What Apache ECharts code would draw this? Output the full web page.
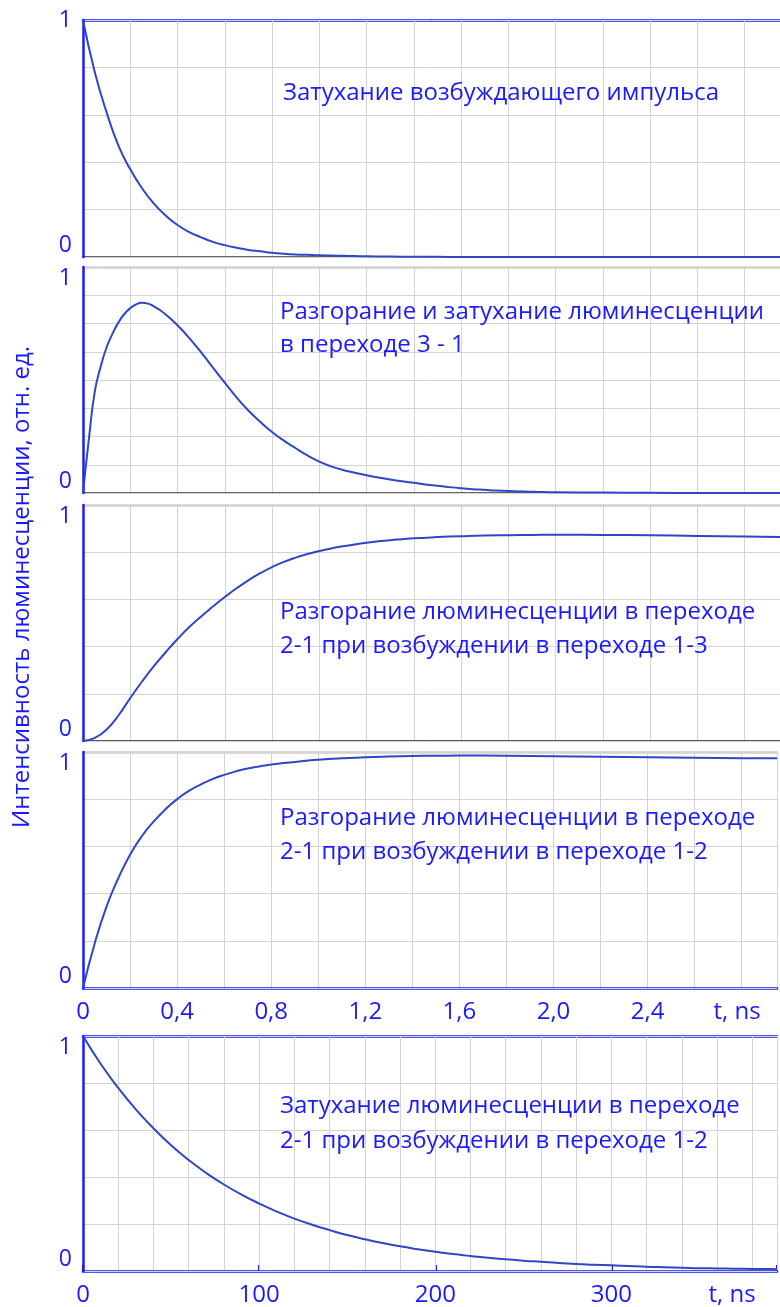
<!DOCTYPE html>
<html><head><meta charset="utf-8">
<script src="https://cdn.jsdelivr.net/npm/echarts@6/dist/echarts.min.js"></script>
<style>html,body{margin:0;padding:0;background:#fff}#c{width:780px;height:1307px}</style>
</head><body><div id="c"></div>
<script>
// ---- data ----
const T_MAX_NS = 2.95;
const T_MAX_LONG = 394;

const T_PULSE = [0,0.05,0.1,0.15,0.2,0.25,0.3,0.35,0.4,0.45,0.5,0.55,0.6,0.65,0.7,0.75,0.8,0.85,0.9,0.95,1.0,1.05,1.1,1.15,1.2,1.3,1.4,1.5,1.6,1.8,2.0,2.4,2.95];
const V_PULSE = [1,0.78,0.61,0.47,0.37,0.29,0.225,0.175,0.135,0.105,0.083,0.064,0.05,0.039,0.03,0.024,0.018,0.014,0.011,0.009,0.007,0.006,0.005,0.004,0.003,0.002,0.001,0.001,0,0,0,0,0];

const T_31 = [0,0.025,0.05,0.075,0.1,0.125,0.15,0.175,0.2,0.225,0.25,0.275,0.3,0.325,0.35,0.4,0.45,0.5,0.55,0.6,0.65,0.7,0.75,0.8,0.85,0.9,0.95,1.0,1.05,1.1,1.15,1.2,1.25,1.3,1.35,1.4,1.45,1.5,1.55,1.6,1.65,1.7,1.75,1.8,1.85,1.9,1.95,2.0,2.2,2.4,2.6,2.95];
const V_31 = [0,0.24,0.45,0.56,0.645,0.705,0.755,0.792,0.818,0.835,0.842,0.838,0.826,0.81,0.79,0.742,0.685,0.622,0.555,0.488,0.423,0.365,0.315,0.27,0.232,0.198,0.166,0.139,0.118,0.102,0.09,0.079,0.069,0.06,0.052,0.045,0.038,0.032,0.026,0.021,0.017,0.014,0.011,0.009,0.007,0.005,0.004,0.003,0.002,0.001,0,0];

const T_13 = [0,0.05,0.1,0.15,0.2,0.25,0.3,0.35,0.4,0.45,0.5,0.55,0.6,0.65,0.7,0.75,0.8,0.85,0.9,0.95,1.0,1.05,1.1,1.15,1.2,1.25,1.3,1.35,1.4,1.5,1.6,1.7,1.8,1.9,2.0,2.2,2.4,2.6,2.8,2.95];
const V_13 = [0,0.013,0.049,0.108,0.182,0.252,0.317,0.376,0.432,0.483,0.528,0.57,0.61,0.647,0.681,0.711,0.737,0.759,0.777,0.792,0.805,0.816,0.825,0.833,0.84,0.846,0.851,0.855,0.859,0.864,0.868,0.871,0.872,0.873,0.874,0.873,0.872,0.869,0.866,0.864];

const T_12 = [0,0.05,0.1,0.15,0.2,0.25,0.3,0.35,0.4,0.45,0.5,0.55,0.6,0.65,0.7,0.75,0.8,0.85,0.9,0.95,1.0,1.1,1.2,1.3,1.4,1.5,1.6,1.8,2.0,2.2,2.4,2.6,2.8,2.95];
const V_12 = [0,0.19,0.345,0.465,0.565,0.643,0.705,0.757,0.8,0.835,0.862,0.885,0.903,0.918,0.93,0.939,0.947,0.953,0.958,0.963,0.967,0.973,0.978,0.981,0.983,0.984,0.985,0.984,0.982,0.98,0.978,0.976,0.974,0.973];

const T_DECAY = [0,10,20,30,40,50,60,70,80,90,100,110,120,130,140,150,160,170,180,190,200,210,220,230,240,250,260,270,280,290,300,310,320,330,340,350,360,370,380,390,394];
const V_DECAY = [1,0.882,0.779,0.688,0.607,0.535,0.472,0.417,0.368,0.325,0.287,0.253,0.223,0.197,0.174,0.153,0.135,0.119,0.105,0.093,0.082,0.072,0.064,0.056,0.05,0.044,0.039,0.034,0.03,0.027,0.024,0.021,0.018,0.016,0.014,0.012,0.011,0.01,0.009,0.008,0.007];

const Y_TICK_LABELS = ['0','1'];
const NS_TICK_LABELS_STEP = 0.4;
const LONG_TICK_LABELS_STEP = 100;
const AXIS_NAME = 't, ns';
const Y_TITLE = 'Интенсивность люминесценции, отн. ед.';
const CAPTIONS = [
  ['Затухание возбуждающего импульса'],
  ['Разгорание и затухание люминесценции','в переходе 3 - 1'],
  ['Разгорание люминесценции в переходе','2-1 при возбуждении в переходе 1-3'],
  ['Разгорание люминесценции в переходе','2-1 при возбуждении в переходе 1-2'],
  ['Затухание люминесценции в переходе','2-1 при возбуждении в переходе 1-2']
];

// ---- styling ----
const BLUE = '#1a1aff';
const CURVE = '#2f46c8';
const GRIDC = '#d4d4d4';
const FONT = '"Open Sans", sans-serif';

const grids = [
  {left:83, right:0, top:20, height:237},
  {left:83, right:0, top:267, height:226},
  {left:83, right:0, top:505, height:236},
  {left:83, right:0, top:752, height:236},
  {left:83, right:0, top:1036, height:236}
];
const bottomColors = ['#666', '#333', '#222', BLUE, BLUE];
const bottomWidths = [2, 1.5, 1.5, 2.5, 2.5];
const topColors = [BLUE, '#cfcfcf', '#cfcfcf', '#cfcfcf', BLUE];
const topWidths = [2.5, 2.5, 2.5, 2.5, 2.5];
const yIntervals = [0.2, 0.125, 0.2, 0.2, 0.2];

const xAxes = [], yAxes = [], series = [];
const seriesData = [[T_PULSE,V_PULSE],[T_31,V_31],[T_13,V_13],[T_12,V_12],[T_DECAY,V_DECAY]];

grids.forEach((g, i) => {
  const isLong = i === 4;
  const xmax = isLong ? T_MAX_LONG : T_MAX_NS;
  xAxes.push({
    gridIndex: i, type: 'value', min: 0, max: xmax, interval: isLong ? 20 : 0.2,
    position: 'bottom',
    axisLine: {show: true, onZero: false, lineStyle: {color: bottomColors[i], width: bottomWidths[i]}},
    axisTick: {show: false}, axisLabel: {show: false},
    splitLine: {show: true, lineStyle: {color: GRIDC, width: 1}},
    z: 3
  });
  xAxes.push({
    gridIndex: i, type: 'value', min: 0, max: xmax, position: 'top',
    axisLine: {show: true, onZero: false, lineStyle: {color: topColors[i], width: topWidths[i]}},
    axisTick: {show: false}, axisLabel: {show: false}, splitLine: {show: false}
  });
  yAxes.push({
    gridIndex: i, type: 'value', min: 0, max: 1, interval: yIntervals[i],
    axisLine: {show: true, lineStyle: {color: BLUE, width: 2.5}},
    axisTick: {show: false},
    splitLine: {show: true, lineStyle: {color: GRIDC, width: 1}},
    axisLabel: {
      show: true, color: BLUE, fontSize: 23, fontFamily: FONT, margin: 11,
      formatter: v => (Math.abs(v) < 1e-9 ? Y_TICK_LABELS[0] : (Math.abs(v - 1) < 1e-9 ? Y_TICK_LABELS[1] : '')),
      verticalAlignMinLabel: 'bottom',
      verticalAlignMaxLabel: i === 0 ? 'middle' : 'top'
    },
    z: 4
  });
  const [T, V] = seriesData[i];
  series.push({
    type: 'line', xAxisIndex: xAxes.length - 2, yAxisIndex: i,
    data: T.map((t, k) => [t, V[k]]),
    smooth: 0.5, showSymbol: false, symbol: 'none',
    lineStyle: {color: CURVE, width: 2}, z: 5, silent: true
  });
});

xAxes.push({
  gridIndex: 3, type: 'value', min: 0, max: T_MAX_NS, interval: NS_TICK_LABELS_STEP, position: 'bottom',
  axisLine: {show: false}, axisTick: {show: false}, splitLine: {show: false},
  axisLabel: {
    show: true, color: BLUE, fontSize: 24, fontFamily: FONT, margin: 12,
    formatter: v => {
      if (v > 2.5) return '';
      if (Math.abs(v) < 1e-9) return '0';
      return v.toFixed(1).replace('.', ',');
    }
  }
});
xAxes.push({
  gridIndex: 4, type: 'value', min: 0, max: T_MAX_LONG, interval: LONG_TICK_LABELS_STEP, position: 'bottom',
  axisLine: {show: false},
  axisTick: {show: true, inside: true, length: 6, lineStyle: {color: BLUE, width: 2}},
  splitLine: {show: false},
  axisLabel: {
    show: true, color: BLUE, fontSize: 24, fontFamily: FONT, margin: 12,
    formatter: v => (v > 350 ? '' : String(Math.round(v)))
  }
});

const capPos = [[283, [93]], [280, [312, 345]], [280, [612, 646]], [280, [818, 852]], [280, [1106, 1141]]];
const graphics = [];
CAPTIONS.forEach((lines, i) => {
  lines.forEach((txt, k) => {
    graphics.push({type: 'text', x: capPos[i][0], y: capPos[i][1][k], z: 10,
      style: {text: txt, fill: BLUE, font: '24px ' + FONT, verticalAlign: 'middle', align: 'left'}});
  });
});
graphics.push({type: 'text', x: 22, y: 587, rotation: Math.PI / 2, z: 10,
  style: {text: Y_TITLE, fill: BLUE, font: '24px ' + FONT, align: 'center', verticalAlign: 'middle'}});
graphics.push({type: 'text', x: 737, y: 1012, z: 10,
  style: {text: AXIS_NAME, fill: BLUE, font: '24px ' + FONT, align: 'center', verticalAlign: 'middle'}});
graphics.push({type: 'text', x: 732, y: 1295, z: 10,
  style: {text: AXIS_NAME, fill: BLUE, font: '24px ' + FONT, align: 'center', verticalAlign: 'middle'}});

const chart = echarts.init(document.getElementById('c'), null, {renderer: 'canvas'});
chart.setOption({
  animation: false,
  backgroundColor: '#fff',
  grid: grids,
  xAxis: xAxes,
  yAxis: yAxes,
  series: series,
  graphic: graphics
});
</script></body></html>
